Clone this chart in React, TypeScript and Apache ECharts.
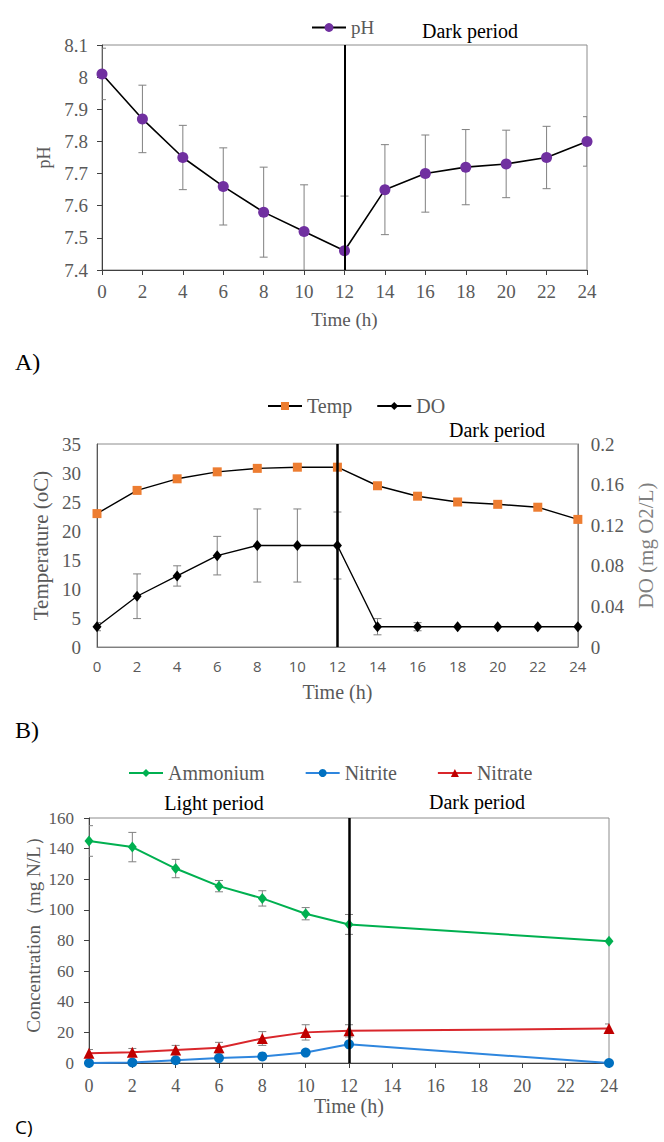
import React, { useEffect, useRef } from "react";
import * as echarts from "echarts";

// ---------- data ----------
const hoursAB = [0, 2, 4, 6, 8, 10, 12, 14, 16, 18, 20, 22, 24];
const phMean = [8.01, 7.87, 7.75, 7.66, 7.58, 7.52, 7.46, 7.65, 7.7, 7.72, 7.73, 7.75, 7.8];
const phErr = [0.08, 0.105, 0.1, 0.12, 0.14, 0.145, 0.17, 0.14, 0.12, 0.117, 0.105, 0.097, 0.077];

const tempMean = [23, 27, 29, 30.2, 30.8, 31, 31, 27.8, 26, 25, 24.6, 24.1, 22];
const doMean = [0.02, 0.05, 0.07, 0.09, 0.1, 0.1, 0.1, 0.02, 0.02, 0.02, 0.02, 0.02, 0.02];
const doErr = [0.004, 0.022, 0.01, 0.019, 0.036, 0.036, 0.033, 0.008, 0.004, 0, 0, 0, 0];

const hoursC = [0, 2, 4, 6, 8, 10, 12, 24];
const ammonium = [145, 141, 127, 115.5, 107.5, 97.5, 90.5, 79.5];
const ammoniumErr = [10, 9.6, 6, 3.7, 5, 4, 6.5, 0];
const nitrite = [0, 0.3, 1.8, 3.2, 4.3, 6.8, 12.2, 0];
const nitrate = [6.3, 7, 8.5, 10, 16, 20, 21, 22.5];
const nitrateErr = [2.5, 2.5, 3, 3.5, 4.5, 5, 4, 3];

const xTicksAB = [0, 24, 2];
const phAxis = [7.4, 8.1, 0.1];
const tempAxis = [0, 35, 5];
const doAxis = [0, 0.2, 0.04];
const concAxis = [0, 160, 20];

// ---------- helpers ----------
const serif = "'Liberation Serif', 'Times New Roman', serif";
const sans = "'Open Sans', 'Noto Sans', sans-serif";
const grey = "#595959";
const axisCol = "#404040";

const pairs = (xs: number[], ys: number[]) => xs.map((x, i) => [x, ys[i]]);
const errData = (xs: number[], m: number[], e: number[]) =>
  xs.map((x, i) => [x, m[i] - e[i], m[i] + e[i]]).filter((d, i) => e[i] > 0);

const errorRender = (cap: number) => (params: any, api: any) => {
  const x = api.value(0);
  const lo = api.coord([x, api.value(1)]);
  const hi = api.coord([x, api.value(2)]);
  const st = { stroke: "#808080", lineWidth: 1 };
  return {
    type: "group",
    children: [
      { type: "line", shape: { x1: hi[0], y1: hi[1], x2: lo[0], y2: lo[1] }, style: st },
      { type: "line", shape: { x1: hi[0] - cap, y1: hi[1], x2: hi[0] + cap, y2: hi[1] }, style: st },
      { type: "line", shape: { x1: lo[0] - cap, y1: lo[1], x2: lo[0] + cap, y2: lo[1] }, style: st },
    ],
  };
};

const vline = (width: number) => ({
  silent: true,
  symbol: ["none", "none"],
  label: { show: false },
  lineStyle: { color: "#000", width, type: "solid" },
  data: [{ xAxis: 12 }],
});

const txt = (text: string, x: number, y: number, size: number, opts: any = {}) => ({
  type: "text",
  x,
  y,
  rotation: opts.rotation || 0,
  style: {
    text,
    fontSize: size,
    fontFamily: opts.family || serif,
    fill: opts.fill || "#000",
    align: opts.align || "center",
    verticalAlign: "middle",
  },
});

export default function App() {
  const ref = useRef<HTMLDivElement>(null);

  useEffect(() => {
    if (!ref.current) return;
    const chart = echarts.init(ref.current, undefined, { renderer: "svg" });

    const tickLabel = (size: number, margin: number, family = serif) => ({
      fontFamily: family,
      fontSize: size,
      color: grey,
      margin,
    });
    const nameStyle = (size: number) => ({ fontFamily: serif, fontSize: size, color: grey });

    const option: any = {
      animation: false,
      backgroundColor: "#fff",
      grid: [
        { left: 102, top: 45, width: 485, height: 225, show: true, borderColor: "#8c8c8c", borderWidth: 1 },
        { left: 97, top: 444, width: 490, height: 203, show: true, borderColor: "#8c8c8c", borderWidth: 1 },
        { left: 89, top: 818, width: 520, height: 245, show: true, borderColor: "#8c8c8c", borderWidth: 1 },
      ],
      legend: [
        {
          data: ["pH"],
          left: 306,
          top: 13,
          itemWidth: 34,
          itemHeight: 11,
          textStyle: { fontFamily: serif, fontSize: 19, color: grey },
        },
        {
          data: ["Temp", "DO"],
          left: 262,
          top: 391,
          itemWidth: 34,
          itemHeight: 10,
          itemGap: 24,
          textStyle: { fontFamily: serif, fontSize: 20, color: grey },
        },
        {
          data: ["Ammonium", "Nitrite", "Nitrate"],
          left: 123,
          top: 758,
          itemWidth: 34,
          itemHeight: 10,
          itemGap: 40,
          textStyle: { fontFamily: serif, fontSize: 20, color: grey },
        },
      ],
      xAxis: [
        {
          gridIndex: 0,
          type: "value",
          min: xTicksAB[0],
          max: xTicksAB[1],
          interval: xTicksAB[2],
          axisLine: { onZero: false, lineStyle: { color: axisCol } },
          axisTick: { show: true, inside: false, length: 5, lineStyle: { color: axisCol } },
          axisLabel: tickLabel(19, 12),
          splitLine: { show: false },
          name: "Time (h)",
          nameLocation: "middle",
          nameGap: 40,
          nameTextStyle: nameStyle(19),
        },
        {
          gridIndex: 1,
          type: "value",
          min: xTicksAB[0],
          max: xTicksAB[1],
          interval: xTicksAB[2],
          axisLine: { onZero: false, lineStyle: { color: "#7f7f7f" } },
          axisTick: { show: false },
          axisLabel: tickLabel(15, 11, sans),
          splitLine: { show: false },
          name: "Time (h)",
          nameLocation: "middle",
          nameGap: 35,
          nameTextStyle: nameStyle(20),
        },
        {
          gridIndex: 2,
          type: "value",
          min: xTicksAB[0],
          max: xTicksAB[1],
          interval: xTicksAB[2],
          axisLine: { onZero: false, lineStyle: { color: axisCol } },
          axisTick: { show: true, inside: false, length: 5, lineStyle: { color: axisCol } },
          axisLabel: tickLabel(18, 14),
          splitLine: { show: false },
          name: "Time (h)",
          nameLocation: "middle",
          nameGap: 24,
          nameTextStyle: nameStyle(20),
        },
      ],
      yAxis: [
        {
          gridIndex: 0,
          type: "value",
          min: phAxis[0],
          max: phAxis[1],
          interval: phAxis[2],
          axisLine: { show: true, lineStyle: { color: axisCol } },
          axisTick: { show: true, inside: false, length: 5, lineStyle: { color: axisCol } },
          axisLabel: { ...tickLabel(19, 14), formatter: (v: number) => String(+v.toFixed(1)) },
          splitLine: { show: false },
          name: "pH",
          nameLocation: "middle",
          nameRotate: 90,
          nameGap: 46,
          nameTextStyle: nameStyle(18),
        },
        {
          gridIndex: 1,
          type: "value",
          position: "left",
          min: tempAxis[0],
          max: tempAxis[1],
          interval: tempAxis[2],
          axisLine: { show: true, lineStyle: { color: "#595959" } },
          axisTick: { show: false },
          axisLabel: tickLabel(19, 16),
          splitLine: { show: false },
          name: "Temperature (oC)",
          nameLocation: "middle",
          nameRotate: 90,
          nameGap: 40,
          nameTextStyle: nameStyle(21),
        },
        {
          gridIndex: 1,
          type: "value",
          position: "right",
          min: doAxis[0],
          max: doAxis[1],
          interval: doAxis[2],
          axisLine: { show: true, lineStyle: { color: "#7f7f7f" } },
          axisTick: { show: false },
          axisLabel: { ...tickLabel(19, 13), formatter: (v: number) => String(+v.toFixed(2)) },
          splitLine: { show: false },
          name: "DO (mg O2/L)",
          nameLocation: "middle",
          nameRotate: 90,
          nameGap: 53,
          nameTextStyle: { fontFamily: serif, fontSize: 21, color: "#7f7f7f" },
        },
        {
          gridIndex: 2,
          type: "value",
          min: concAxis[0],
          max: concAxis[1],
          interval: concAxis[2],
          axisLine: { show: true, lineStyle: { color: axisCol } },
          axisTick: { show: true, inside: false, length: 5, lineStyle: { color: axisCol } },
          axisLabel: tickLabel(17, 15),
          splitLine: { show: false },
        },
      ],
      series: [
        // ---- A ----
        {
          type: "custom",
          xAxisIndex: 0,
          yAxisIndex: 0,
          clip: true,
          z: 1,
          silent: true,
          renderItem: errorRender(4),
          data: errData(hoursAB, phMean, phErr),
        },
        {
          name: "pH",
          type: "line",
          xAxisIndex: 0,
          yAxisIndex: 0,
          z: 3,
          data: pairs(hoursAB, phMean),
          symbol: "circle",
          symbolSize: 11,
          itemStyle: { color: "#7030A0" },
          lineStyle: { color: "#000", width: 1.6 },
          markLine: vline(2),
        },
        // ---- B ----
        {
          type: "custom",
          xAxisIndex: 1,
          yAxisIndex: 2,
          clip: true,
          z: 1,
          silent: true,
          renderItem: errorRender(4),
          data: errData(hoursAB, doMean, doErr),
        },
        {
          name: "Temp",
          type: "line",
          xAxisIndex: 1,
          yAxisIndex: 1,
          z: 3,
          data: pairs(hoursAB, tempMean),
          symbol: "rect",
          symbolSize: 9,
          itemStyle: { color: "#ED7D31" },
          lineStyle: { color: "#000", width: 1.4 },
          markLine: vline(2.5),
        },
        {
          name: "DO",
          type: "line",
          xAxisIndex: 1,
          yAxisIndex: 2,
          z: 3,
          data: pairs(hoursAB, doMean),
          symbol: "diamond",
          symbolSize: [9, 11],
          itemStyle: { color: "#000" },
          lineStyle: { color: "#000", width: 1.4 },
        },
        // ---- C ----
        {
          type: "custom",
          xAxisIndex: 2,
          yAxisIndex: 3,
          clip: true,
          z: 1,
          silent: true,
          renderItem: errorRender(4),
          data: errData(hoursC, ammonium, ammoniumErr),
        },
        {
          type: "custom",
          xAxisIndex: 2,
          yAxisIndex: 3,
          clip: true,
          z: 1,
          silent: true,
          renderItem: errorRender(4),
          data: errData(hoursC, nitrate, nitrateErr),
        },
        {
          name: "Ammonium",
          type: "line",
          xAxisIndex: 2,
          yAxisIndex: 3,
          z: 3,
          data: pairs(hoursC, ammonium),
          symbol: "diamond",
          symbolSize: [9, 11],
          itemStyle: { color: "#00B050" },
          lineStyle: { color: "#00B050", width: 2 },
          markLine: vline(2.5),
        },
        {
          name: "Nitrite",
          type: "line",
          xAxisIndex: 2,
          yAxisIndex: 3,
          z: 3,
          data: pairs(hoursC, nitrite),
          symbol: "circle",
          symbolSize: 10,
          itemStyle: { color: "#0070C0" },
          lineStyle: { color: "#2E86DE", width: 2 },
        },
        {
          name: "Nitrate",
          type: "line",
          xAxisIndex: 2,
          yAxisIndex: 3,
          z: 3,
          data: pairs(hoursC, nitrate),
          symbol: "triangle",
          symbolSize: 11,
          itemStyle: { color: "#C00000" },
          lineStyle: { color: "#D9262B", width: 2 },
        },
      ],
      graphic: [
        txt("Dark period", 470, 31, 20),
        txt("A)", 15, 362, 24, { align: "left" }),
        txt("Dark period", 497, 430, 20),
        txt("B)", 15, 730, 24, { align: "left" }),
        txt("Light period", 214, 803, 20),
        txt("Dark period", 477, 802, 20),
        txt("C)", 15, 1127, 19, { align: "left", family: sans }),
        txt("Concentration（mg N/L）", 33, 930, 19, { rotation: Math.PI / 2, fill: grey }),
      ],
    };

    chart.setOption(option);
    return () => chart.dispose();
  }, []);

  return (
    <div
      ref={ref}
      style={{ position: "absolute", left: 0, top: 0, width: 664, height: 1142 }}
    />
  );
}
